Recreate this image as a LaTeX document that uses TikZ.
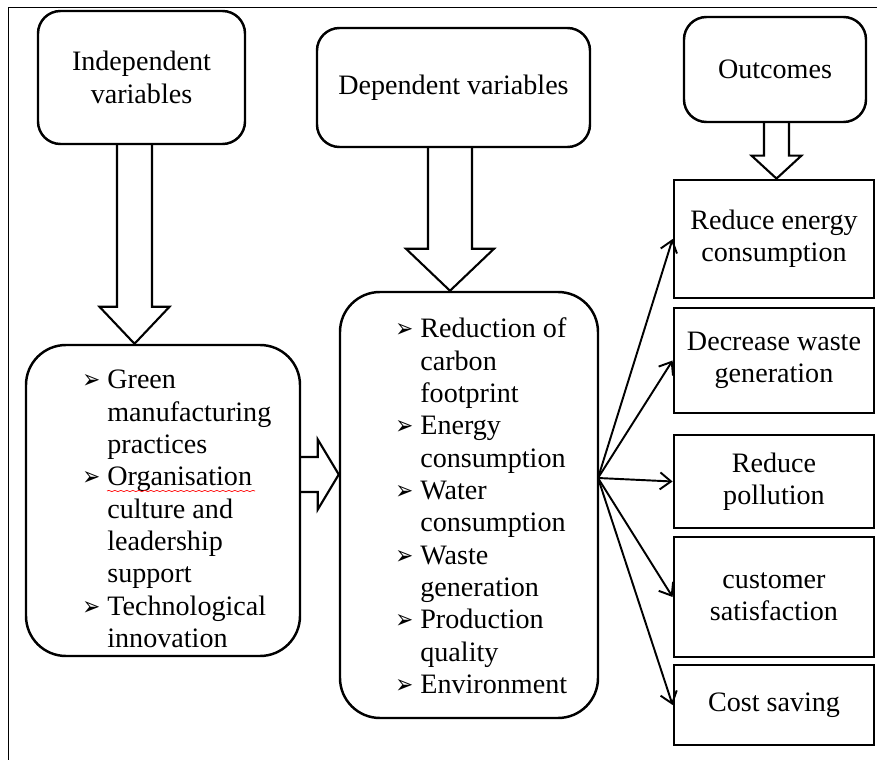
\documentclass[tikz,border=0pt]{standalone}
\usepackage{fontspec}
\usepackage{graphicx}
\setmainfont{Liberation Serif}
\newfontfamily\dingfont{DejaVu Sans}
\usetikzlibrary{calc,arrows.meta,decorations.pathmorphing}

\newcommand{\itm}{\makebox[0.5cm][l]{\resizebox{0.36cm}{0.28cm}{\dingfont ➢}}}
\newcommand{\cnt}{\hspace*{0.5cm}}

% hollow block arrows between two named nodes
\newcommand{\fatdown}[5]{%
  \draw[fat] let \p1=(#1.south), \p2=(#2.north) in
    (#3-#4,\y1) -- (#3-#4,\y2+#5) -- (#3-2*#4,\y2+#5) -- (#3,\y2)
    -- (#3+2*#4,\y2+#5) -- (#3+#4,\y2+#5) -- (#3+#4,\y1);}
\newcommand{\fatright}[5]{%
  \draw[fat] let \p1=(#1.east), \p2=(#2.west) in
    (\x1,#3+#4) -- (\x2-#5,#3+#4) -- (\x2-#5,#3+2*#4) -- (\x2,#3)
    -- (\x2-#5,#3-2*#4) -- (\x2-#5,#3-#4) -- (\x1,#3-#4);}

\tikzset{
  every node/.style={font=\fontsize{16}{18.4}\selectfont, inner sep=0pt},
  headbox/.style={draw, line width=1.4pt, rounded corners=0.45cm, align=center},
  listbox/.style={draw, line width=1.4pt, rounded corners=0.8cm},
  outbox/.style={draw, line width=1.6pt, minimum width=4cm, align=center},
  fat/.style={line width=1.2pt, line join=miter},
  fan/.style={line width=1.1pt, -{Straight Barb[length=2.2mm,width=3.4mm]}}
}

\begin{document}
\begin{tikzpicture}
\useasboundingbox (0,0) rectangle (17.54,15.2);
\draw[line width=0.4pt] (17.54,15.06) -- (0.16,15.06) -- (0.16,0);

% headings
\node[headbox, minimum width=4.14cm, minimum height=2.66cm] (indep) at (2.83,13.65) {Independent\\variables};
\node[headbox, minimum width=5.46cm, minimum height=2.38cm] (dep) at (9.07,13.45) {Dependent variables};
\node[headbox, minimum width=3.64cm, minimum height=2.10cm] (outc) at (15.50,13.81) {Outcomes};

% lists
\node[listbox, minimum width=5.48cm, minimum height=6.22cm] (indepList) at (3.26,5.19) {};
\node[anchor=west, align=left] (indepItems) at (1.64,5.02) {\itm Green\\
\cnt manufacturing\\
\cnt practices\\
\itm Organisation\\
\cnt culture and\\
\cnt leadership\\
\cnt support\\
\itm Technological\\
\cnt innovation};
\draw[red, line width=0.4pt, decorate, decoration={snake, amplitude=0.35pt, segment length=1.2mm}] (2.14,5.38) -- (5.10,5.38);

\node[listbox, minimum width=5.16cm, minimum height=8.52cm] (midList) at (9.38,5.10) {};
\node[anchor=west, align=left] (midItems) at (7.90,5.08) {\itm Reduction of\\
\cnt carbon\\
\cnt footprint\\
\itm Energy\\
\cnt consumption\\
\itm Water\\
\cnt consumption\\
\itm Waste\\
\cnt generation\\
\itm Production\\
\cnt quality\\
\itm Environment};

% outcomes
\node[outbox, minimum height=2.36cm] (out1) at (15.48,10.42) {Reduce energy\\consumption};
\node[outbox, minimum height=2.10cm] (out2) at (15.48,7.99) {Decrease waste\\generation};
\node[outbox, minimum height=1.86cm] (out3) at (15.48,5.57) {Reduce\\pollution};
\node[outbox, minimum height=2.40cm] (out4) at (15.48,3.26) {customer\\satisfaction};
\node[outbox, minimum height=1.60cm] (out5) at (15.48,1.10) {Cost saving};

% block arrows
\fatdown{indep}{indepList}{2.69cm}{0.35cm}{0.74cm}
\fatdown{dep}{midList}{9.00cm}{0.44cm}{0.84cm}
\fatdown{outc}{out1}{15.53cm}{0.25cm}{0.46cm}
\fatright{indepList}{midList}{5.71cm}{0.35cm}{0.42cm}

% fan of arrows
\coordinate (fan) at (11.96,5.64);
\foreach \n in {1,...,5}
  \draw[fan] (fan) -- (out\n.west);
\end{tikzpicture}
\end{document}
